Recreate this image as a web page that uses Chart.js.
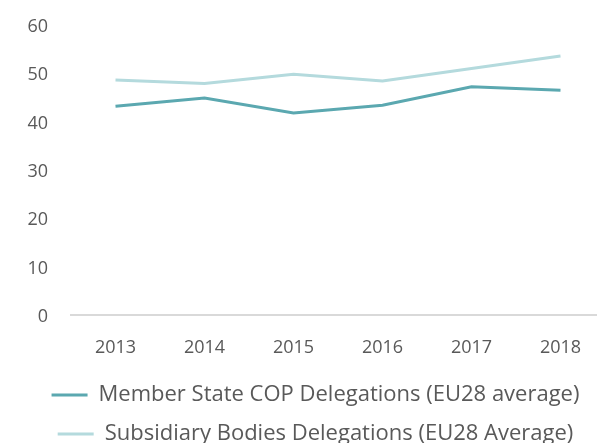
<!DOCTYPE html>
<html>
<head>
<meta charset="utf-8">
<script src="https://cdn.jsdelivr.net/npm/chart.js@4/dist/chart.umd.min.js"></script>
<style>
  html, body { margin: 0; padding: 0; background: #fff; overflow: hidden; }
  /* a bit wider than the window so the last category runs off the right edge */
  #wrap { width: 605px; height: 443px; position: relative; }
</style>
</head>
<body>
<div id="wrap"><canvas id="delegationsChart"></canvas></div>
<script>
const years = ["2013", "2014", "2015", "2016", "2017", "2018"];
const memberStateCop = [43.2, 44.9, 41.8, 43.4, 47.2, 46.5];
const subsidiaryBodies = [48.6, 47.9, 49.8, 48.4, 51.0, 53.6];

const textColor = "#595959";
const fontFamily = "'Open Sans', sans-serif";

const ctx = document.getElementById("delegationsChart").getContext("2d");

const myChart = new Chart(ctx, {
  type: "line",
  data: {
    labels: years,
    datasets: [
      {
        label: "Member State COP Delegations (EU28 average)",
        data: memberStateCop,
        borderColor: "#5ba8b0",
        backgroundColor: "#5ba8b0",
        borderWidth: 3,
        pointRadius: 0,
        tension: 0,
      },
      {
        label: "Subsidiary Bodies Delegations (EU28 Average)",
        data: subsidiaryBodies,
        borderColor: "#b4dadd",
        backgroundColor: "#b4dadd",
        borderWidth: 3,
        pointRadius: 0,
        tension: 0,
      },
    ],
  },
  options: {
    responsive: true,
    maintainAspectRatio: false,
    animation: false,
    layout: { padding: { top: 25, right: 0, left: 26, bottom: -12 } },
    plugins: {
      tooltip: { enabled: false },
      legend: {
        position: "bottom",
        labels: {
          usePointStyle: true,
          pointStyle: "line",
          pointStyleWidth: 36,
          padding: 17,
          color: textColor,
          font: { family: fontFamily, size: 22 },
        },
      },
    },
    scales: {
      x: {
        offset: true,
        grid: { display: false, drawTicks: false },
        border: { color: "#d9d9d9", width: 2 },
        ticks: {
          color: textColor,
          padding: 22,
          font: { family: fontFamily, size: 18 },
        },
        afterFit: (scale) => {
          scale.height = 52;
          scale.paddingLeft = 0;
          scale.paddingRight = 0;
        },
      },
      y: {
        min: 0,
        max: 60,
        grid: { display: false, drawTicks: false },
        border: { display: false },
        ticks: {
          stepSize: 10,
          color: textColor,
          padding: 23,
          labelOffset: 2,
          font: { family: fontFamily, size: 18 },
        },
        // keep the tick labels from pushing the plot area around
        afterFit: (scale) => {
          scale.width = 45;
          scale.paddingTop = 0;
          scale.paddingBottom = 0;
        },
      },
    },
  },
});
</script>
</body>
</html>
